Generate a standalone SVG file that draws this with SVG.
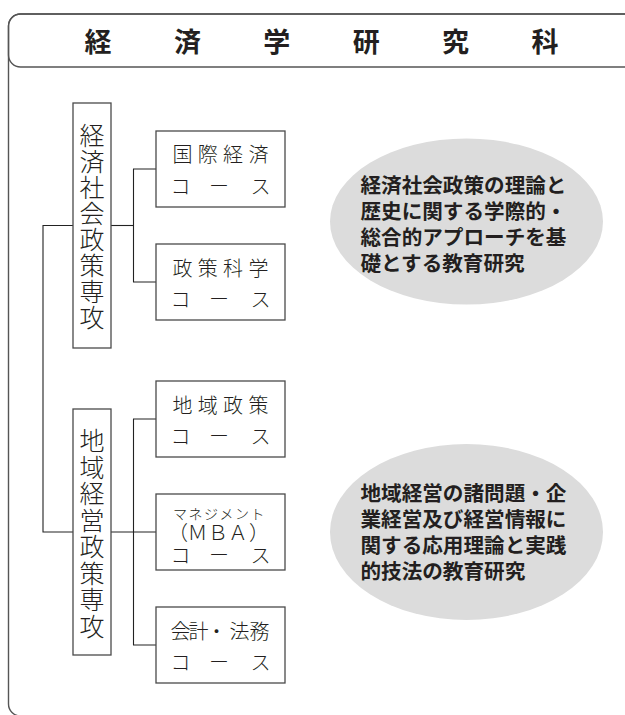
<svg xmlns="http://www.w3.org/2000/svg" width="625" height="715" viewBox="0 0 625 715">
<style>
.frame{fill:none;stroke:#555;stroke-width:1.4}
.box{fill:#fff;stroke:#4a4a4a;stroke-width:1.3}
.conn{fill:none;stroke:#222;stroke-width:1.1}
.ell{fill:#dcdcdc;stroke:none}
.hd{font-family:"Noto Sans CJK JP","Noto Sans",sans-serif;font-weight:700;font-size:27px;fill:#231f20;text-anchor:middle;dominant-baseline:central}
.vt{font-family:"Noto Sans CJK JP","Noto Sans",sans-serif;font-weight:300;font-size:25px;fill:#231f20;text-anchor:middle;dominant-baseline:central}
.ct{font-family:"Noto Sans CJK JP","Noto Sans",sans-serif;font-weight:300;font-size:20px;fill:#231f20;text-anchor:middle;dominant-baseline:central}
.cs{font-family:"Noto Sans CJK JP","Noto Sans",sans-serif;font-weight:300;font-size:14px;fill:#231f20;text-anchor:middle;dominant-baseline:central}
.et{font-family:"Noto Sans CJK JP","Noto Sans",sans-serif;font-weight:700;font-size:20.6px;fill:#231f20;dominant-baseline:central}
</style>
<rect width="625" height="715" fill="#fff"/>
<g id="frame">
<rect class="frame" x="8.5" y="14" width="640" height="702" rx="12"/>
</g>
<g id="header">
<rect class="frame" x="8.5" y="14" width="640" height="53" rx="12" fill="#fff"/>
<text class="hd" x="98 187.4 276.8 366.2 455.6 545" y="40.5 40.5 40.5 40.5 40.5 40.5">経済学研究科</text>
</g>
<g id="connectors">
<polyline class="conn" points="73,225.5 43,225.5 43,532 73,532"/>
<polyline class="conn" points="111,225.5 133.5,225.5"/>
<polyline class="conn" points="156,169 133.5,169 133.5,282 156,282"/>
<polyline class="conn" points="111,532 156,532"/>
<polyline class="conn" points="156,419 133.5,419 133.5,645 156,645"/>
</g>
<g id="major1">
<rect class="box" x="73" y="103" width="38" height="245"/>
<text class="vt" x="92 92 92 92 92 92 92 92" y="133.5 159.5 185.5 211.5 237.5 263.5 289.5 315.5">経済社会政策専攻</text>
</g>
<g id="major2">
<rect class="box" x="73" y="409" width="38" height="246"/>
<text class="vt" x="92 92 92 92 92 92 92 92" y="439 465.5 492 518.5 545 571.5 598 624.5">地域経営政策専攻</text>
</g>
<g id="course-kokusai">
<rect class="box" x="156" y="131" width="129" height="76"/>
<text class="ct" x="182.5 207.8 233.1 258.4" y="153.5 153.5 153.5 153.5">国際経済</text>
<text class="ct" x="180.5 219 260.5" y="185 185 185">コース</text>
</g>
<g id="course-seisaku">
<rect class="box" x="156" y="244" width="129" height="76"/>
<text class="ct" x="182.5 207.8 233.1 258.4" y="267 267 267 267">政策科学</text>
<text class="ct" x="180.5 219 260.5" y="298 298 298">コース</text>
</g>
<g id="course-chiiki">
<rect class="box" x="156" y="381" width="129" height="76"/>
<text class="ct" x="182.5 207.8 233.1 258.4" y="404 404 404 404">地域政策</text>
<text class="ct" x="180.5 219 260.5" y="435 435 435">コース</text>
</g>
<g id="course-mba">
<rect class="box" x="156" y="494" width="129" height="76"/>
<text class="cs" x="180 195.5 211 226.5 242 257.5" y="512.5 512.5 512.5 512.5 512.5 512.5">マネジメント</text>
<text class="ct" x="178 197.5 218 238 259" y="531.5 531.5 531.5 531.5 531.5">（ＭＢＡ）</text>
<text class="ct" x="180.5 219 260.5" y="554 554 554">コース</text>
</g>
<g id="course-kaikei">
<rect class="box" x="156" y="607" width="129" height="76"/>
<text class="ct" x="180.5 198.5 216.5 239.5 259.5" y="630 630 630 630 630">会計・法務</text>
<text class="ct" x="180.5 219 260.5" y="661 661 661">コース</text>
</g>
<g id="desc1">
<ellipse class="ell" cx="466.5" cy="221.5" rx="136.5" ry="83"/>
<text class="et" x="360.5" y="183.5">経済社会政策の理論と</text>
<text class="et" x="360.5" y="210">歴史に関する学際的・</text>
<text class="et" x="360.5" y="236">総合的アプローチを基</text>
<text class="et" x="360.5" y="262">礎とする教育研究</text>
</g>
<g id="desc2">
<ellipse class="ell" cx="466.5" cy="532" rx="136.5" ry="88"/>
<text class="et" x="360.5" y="492">地域経営の諸問題・企</text>
<text class="et" x="360.5" y="518">業経営及び経営情報に</text>
<text class="et" x="360.5" y="544">関する応用理論と実践</text>
<text class="et" x="360.5" y="570">的技法の教育研究</text>
</g>
</svg>
